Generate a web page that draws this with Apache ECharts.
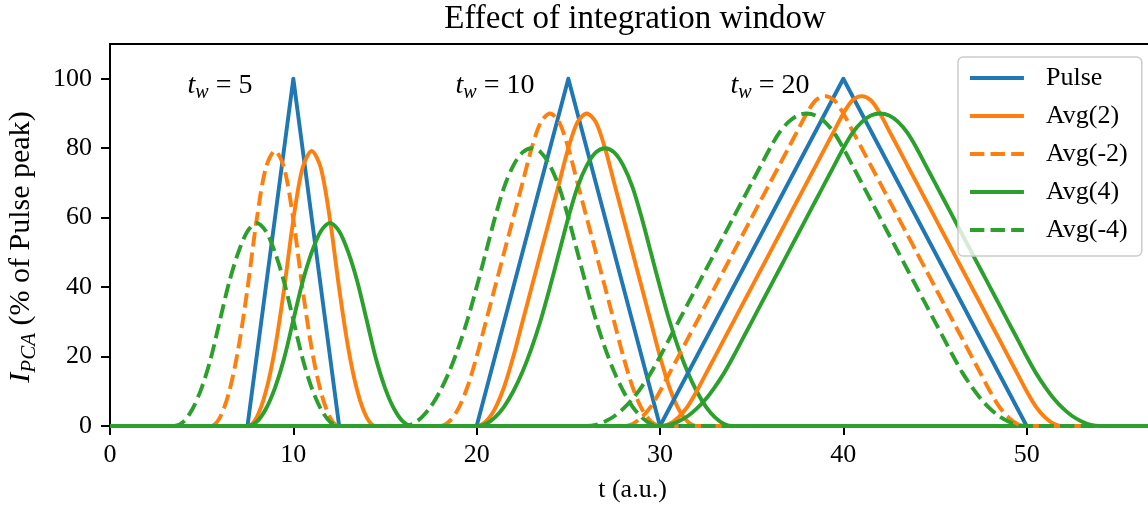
<!DOCTYPE html>
<html><head><meta charset="utf-8">
<script src="https://cdn.jsdelivr.net/npm/echarts@6/dist/echarts.min.js"></script>
<style>html,body{margin:0;padding:0;background:#fff}#c{width:1148px;height:508px}</style>
</head><body><div id="c"></div>
<script>
// ---------- data ----------
const STEP = 0.5;               // sampling step of the averaged curves (t units)
const xTicks = [0, 10, 20, 30, 40, 50];
const yTicks = [0, 20, 40, 60, 80, 100];
const seriesNames = ['Pulse', 'Avg(2)', 'Avg(-2)', 'Avg(4)', 'Avg(-4)'];

// annotations
const annT = [6, 21, 36];
const annY = [98, 98, 98];
const annW = ['5', '10', '20'];

// tw = 5
const pulseT5 = [7.5, 10, 12.5];
const pulseV5 = [0, 100, 0];
const avg2Start5 = 7.5, avgM2Start5 = 5.5, avg4Start5 = 7.5, avgM4Start5 = 3.5;
const avg2Tw5  = [0, 2.5, 9.9, 22.3, 39.6, 59.4, 74.3, 79.2, 74.3, 59.4, 39.6, 22.3, 9.9, 2.5, 0];
const avgM2Tw5 = [0, 2.5, 9.9, 22.3, 39.6, 59.4, 74.3, 79.2, 74.3, 59.4, 39.6, 22.3, 9.9, 2.5, 0];
const avg4Tw5  = [0, 1.2, 4.9, 11.0, 19.5, 30.5, 41.4, 50.0, 56.1, 58.5, 56.1, 50.0, 41.4, 30.5, 19.5, 11.0, 4.9, 1.2, 0];
const avgM4Tw5 = [0, 1.2, 4.9, 11.0, 19.5, 30.5, 41.4, 50.0, 56.1, 58.5, 56.1, 50.0, 41.4, 30.5, 19.5, 11.0, 4.9, 1.2, 0];

// tw = 10
const pulseT10 = [20, 25, 30];
const pulseV10 = [0, 100, 0];
const avg2Start10 = 20, avgM2Start10 = 18, avg4Start10 = 20, avgM4Start10 = 16;
const avg2Tw10  = [0, 1.3, 5, 11.3, 20, 30, 40, 50, 60, 70, 80, 87.5, 90, 87.5, 80, 70, 60, 50, 40, 30, 20, 11.3, 5, 1.3, 0];
const avgM2Tw10 = [0, 1.3, 5, 11.3, 20, 30, 40, 50, 60, 70, 80, 87.5, 90, 87.5, 80, 70, 60, 50, 40, 30, 20, 11.3, 5, 1.3, 0];
const avg4Tw10  = [0, 0.6, 2.5, 5.6, 10, 15.6, 22.5, 30.6, 40, 50, 60, 68.8, 75, 78.8, 80, 78.8, 75, 68.8, 60, 50, 40, 30.6, 22.5, 15.6, 10, 5.6, 2.5, 0.6, 0];
const avgM4Tw10 = [0, 0.6, 2.5, 5.6, 10, 15.6, 22.5, 30.6, 40, 50, 60, 68.8, 75, 78.8, 80, 78.8, 75, 68.8, 60, 50, 40, 30.6, 22.5, 15.6, 10, 5.6, 2.5, 0.6, 0];

// tw = 20
const pulseT20 = [30, 40, 50];
const pulseV20 = [0, 100, 0];
const avg2Start20 = 30, avgM2Start20 = 28, avg4Start20 = 30, avgM4Start20 = 26;
const avg2Tw20  = [0, 0.6, 2.5, 5.6, 10, 15, 20, 25, 30, 35, 40, 45, 50, 55, 60, 65, 70, 75, 80, 85, 90, 93.8, 95, 93.8, 90, 85, 80, 75, 70, 65, 60, 55, 50, 45, 40, 35, 30, 25, 20, 15, 10, 5.6, 2.5, 0.6, 0];
const avgM2Tw20 = [0, 0.6, 2.5, 5.6, 10, 15, 20, 25, 30, 35, 40, 45, 50, 55, 60, 65, 70, 75, 80, 85, 90, 93.8, 95, 93.8, 90, 85, 80, 75, 70, 65, 60, 55, 50, 45, 40, 35, 30, 25, 20, 15, 10, 5.6, 2.5, 0.6, 0];
const avg4Tw20  = [0, 0.3, 1.3, 2.8, 5, 7.8, 11.3, 15.3, 20, 25, 30, 35, 40, 45, 50, 55, 60, 65, 70, 75, 80, 84.4, 87.5, 89.4, 90, 89.4, 87.5, 84.4, 80, 75, 70, 65, 60, 55, 50, 45, 40, 35, 30, 25, 20, 15.3, 11.3, 7.8, 5, 2.8, 1.3, 0.3, 0];
const avgM4Tw20 = [0, 0.3, 1.3, 2.8, 5, 7.8, 11.3, 15.3, 20, 25, 30, 35, 40, 45, 50, 55, 60, 65, 70, 75, 80, 84.4, 87.5, 89.4, 90, 89.4, 87.5, 84.4, 80, 75, 70, 65, 60, 55, 50, 45, 40, 35, 30, 25, 20, 15.3, 11.3, 7.8, 5, 2.8, 1.3, 0.3, 0];

const X_MIN = 0, X_MAX = 57, X_END = 60, Y_MAX = 110;

// ---------- chart ----------
const FONT = 'Liberation Serif';
const LW = 3.9;
const DASH = [14.4, 6.2];
const C_BLUE = '#1f77b4', C_ORANGE = '#ff7f0e', C_GREEN = '#2ca02c';

function sampled(start, vals) { return vals.map((v, i) => [start + i * STEP, v]); }
function pairs(ts, vs) { return ts.map((t, i) => [t, vs[i]]); }
function lineSeries(name, color, dashed, pts, smooth) {
  return {
    type: 'line', name: name,
    data: [[X_MIN, 0]].concat(pts).concat([[X_END, 0]]),
    symbol: 'none', showSymbol: false,
    smooth: smooth ? 0.3 : false,
    clip: true,
    lineStyle: { color: color, width: LW, type: dashed ? DASH : 'solid', cap: 'butt', join: 'round' },
    itemStyle: { color: color },
    emphasis: { disabled: true },
    z: 2
  };
}

const groups = [
  { pt: pulseT5, pv: pulseV5, a2: sampled(avg2Start5, avg2Tw5), m2: sampled(avgM2Start5, avgM2Tw5), a4: sampled(avg4Start5, avg4Tw5), m4: sampled(avgM4Start5, avgM4Tw5) },
  { pt: pulseT10, pv: pulseV10, a2: sampled(avg2Start10, avg2Tw10), m2: sampled(avgM2Start10, avgM2Tw10), a4: sampled(avg4Start10, avg4Tw10), m4: sampled(avgM4Start10, avgM4Tw10) },
  { pt: pulseT20, pv: pulseV20, a2: sampled(avg2Start20, avg2Tw20), m2: sampled(avgM2Start20, avgM2Tw20), a4: sampled(avg4Start20, avg4Tw20), m4: sampled(avgM4Start20, avgM4Tw20) }
];

const series = [];
groups.forEach(g => {
  series.push(lineSeries(seriesNames[0], C_BLUE, false, pairs(g.pt, g.pv), false));
  series.push(lineSeries(seriesNames[1], C_ORANGE, false, g.a2, true));
  series.push(lineSeries(seriesNames[2], C_ORANGE, true, g.m2, true));
  series.push(lineSeries(seriesNames[3], C_GREEN, false, g.a4, true));
  series.push(lineSeries(seriesNames[4], C_GREEN, true, g.m4, true));
});

series.push({
  type: 'scatter', name: 'annotations', silent: true, symbolSize: 0, z: 5,
  itemStyle: { opacity: 1, color: '#000' },
  data: annT.map((t, i) => ({
    value: [t, annY[i]],
    label: { formatter: '{t|t}{w|w}{n| = ' + annW[i] + '}' }
  })),
  label: {
    show: true, position: 'inside', color: '#000', opacity: 1,
    fontFamily: FONT, fontSize: 28,
    rich: {
      t: { fontFamily: FONT, fontStyle: 'italic', fontSize: 28, lineHeight: 34, color: '#000' },
      w: { fontFamily: FONT, fontStyle: 'italic', fontSize: 20, lineHeight: 19, verticalAlign: 'bottom', color: '#000' },
      n: { fontFamily: FONT, fontSize: 28, lineHeight: 34, color: '#000' }
    }
  }
});

const axisLineStyle = { color: '#000', width: 2 };
const chart = echarts.init(document.getElementById('c'), null, { renderer: 'canvas' });
chart.setOption({
  animation: false,
  backgroundColor: '#fff',
  title: {
    text: 'Effect of integration window',
    left: 635, top: 1, textAlign: 'center', padding: 0,
    textStyle: { fontFamily: FONT, fontSize: 33, fontWeight: 'normal', color: '#000', lineHeight: 36 }
  },
  grid: {
    left: 110, top: 44, right: -7, bottom: 82,
    outerBoundsMode: 'none', containLabel: false,
    show: true, borderColor: '#000', borderWidth: 2, backgroundColor: 'transparent'
  },
  legend: {
    data: seriesNames,
    orient: 'vertical', left: 958, top: 57,
    itemWidth: 54, itemHeight: 26, itemGap: 12,
    padding: [8, 14, 13, 10],
    backgroundColor: 'rgba(255,255,255,0.8)',
    borderColor: '#cccccc', borderWidth: 1.5, borderRadius: 5,
    lineStyle: { width: LW },
    itemStyle: { opacity: 0 },
    textStyle: { fontFamily: FONT, fontSize: 26, color: '#000', padding: [0, 0, 0, 17], lineHeight: 26 },
    selectedMode: false,
    z: 10
  },
  xAxis: {
    type: 'value', min: X_MIN, max: X_MAX, interval: 10,
    name: 't (a.u.)', nameLocation: 'middle', nameGap: 49,
    nameTextStyle: { fontFamily: FONT, fontSize: 26, color: '#000', lineHeight: 30 },
    axisLine: { show: true, onZero: false, lineStyle: axisLineStyle },
    axisTick: { show: true, inside: false, length: 9, lineStyle: axisLineStyle, customValues: xTicks },
    axisLabel: { fontFamily: FONT, fontSize: 26, color: '#000', margin: 16, customValues: xTicks },
    splitLine: { show: false }
  },
  yAxis: {
    type: 'value', min: 0, max: Y_MAX, interval: 20,
    name: '{i|I}{s|PCA}{n| (% of Pulse peak)}',
    nameLocation: 'middle', nameGap: 70, nameRotate: 90,
    nameTextStyle: {
      fontFamily: FONT, fontSize: 30, color: '#000',
      padding: [0, 24, 0, 0],
      rich: {
        i: { fontFamily: FONT, fontStyle: 'italic', fontSize: 30, lineHeight: 38, color: '#000' },
        s: { fontFamily: FONT, fontStyle: 'italic', fontSize: 21, lineHeight: 22, verticalAlign: 'bottom', color: '#000' },
        n: { fontFamily: FONT, fontSize: 30, lineHeight: 38, color: '#000' }
      }
    },
    axisLine: { show: true, lineStyle: axisLineStyle },
    axisTick: { show: true, inside: false, length: 9, lineStyle: axisLineStyle, customValues: yTicks },
    axisLabel: { fontFamily: FONT, fontSize: 26, color: '#000', margin: 18, customValues: yTicks },
    splitLine: { show: false }
  },
  series: series
});
</script>
</body></html>
